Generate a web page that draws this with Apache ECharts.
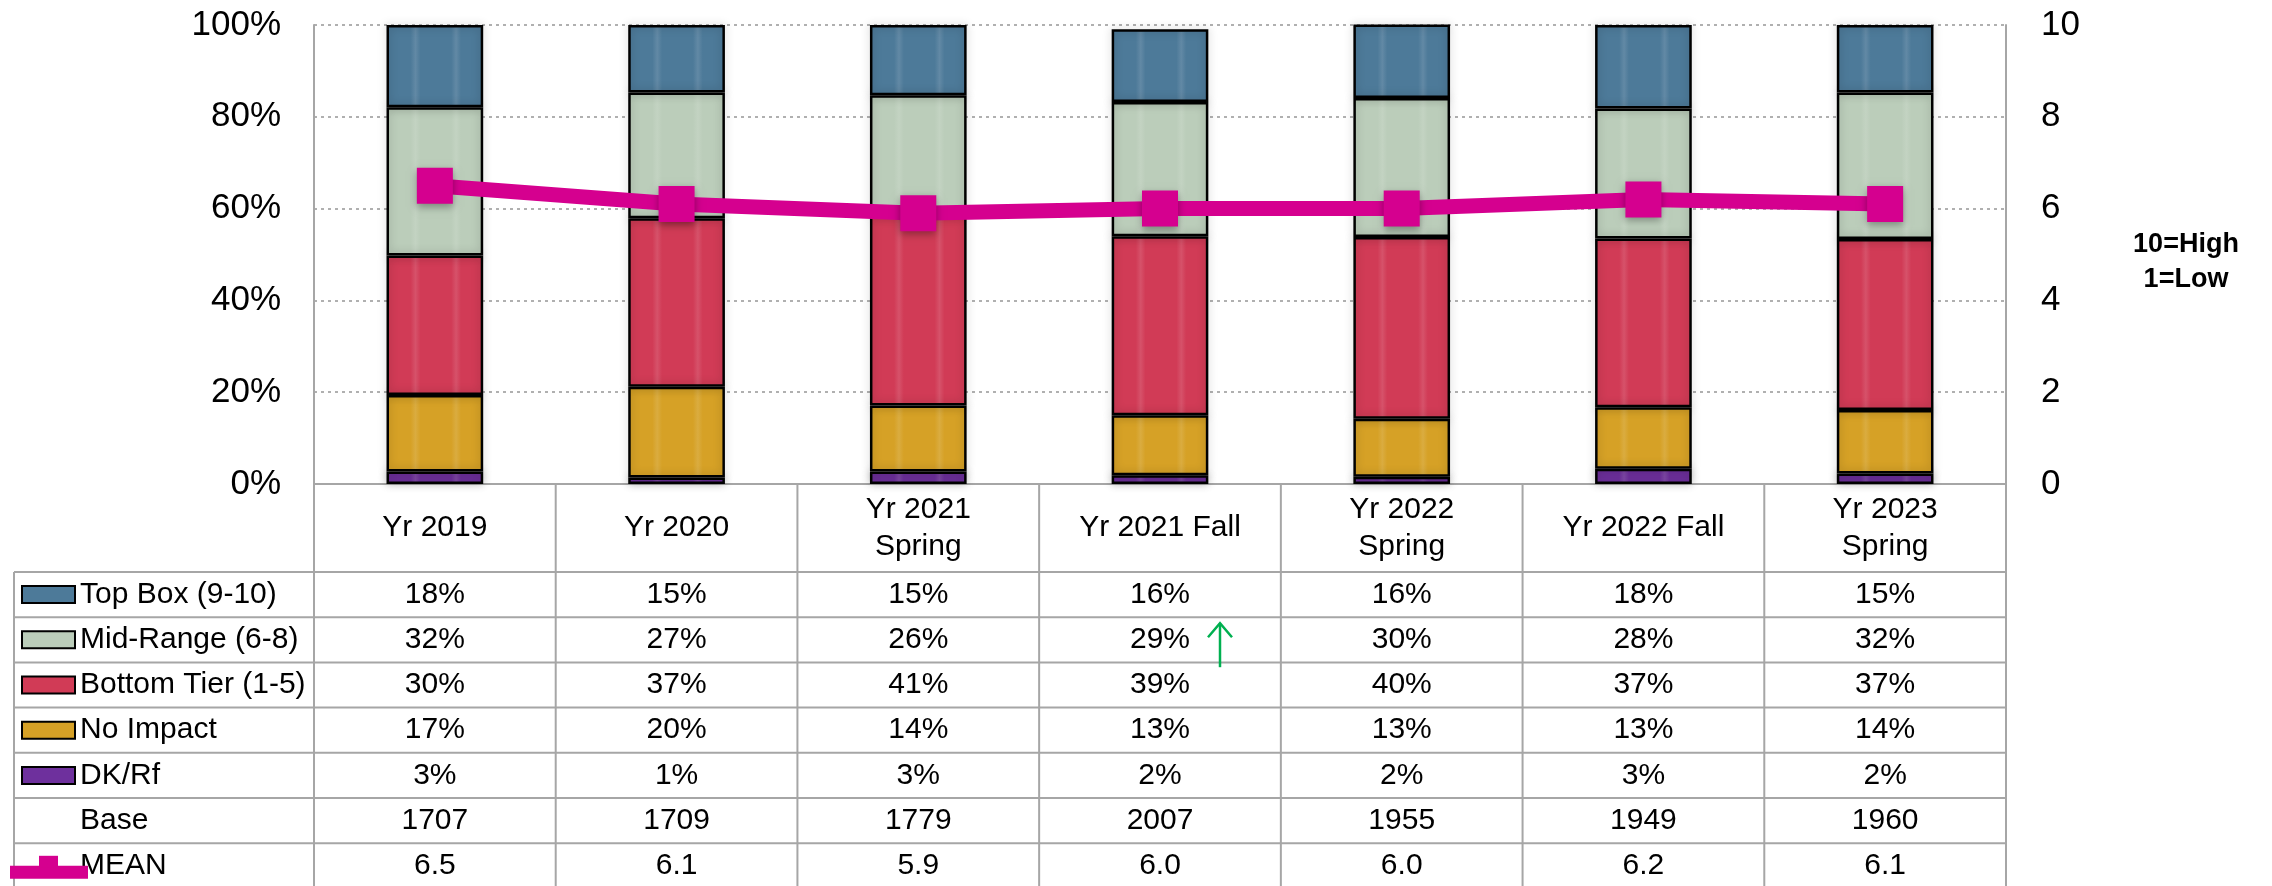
<!DOCTYPE html>
<html lang="en">
<head>
<meta charset="UTF-8">
<title>Rating by wave</title>
<script src="https://cdn.jsdelivr.net/npm/echarts/dist/echarts.min.js"></script>
<style>
    html, body {
        margin: 0;
        padding: 0;
        background: #fff;
    }
    #chart {
        width: 2272px;
        height: 886px;
    }
</style>
</head>
<body>
<div id="chart"></div>
<script>
var categories = ['Yr 2019', 'Yr 2020', 'Yr 2021\nSpring', 'Yr 2021 Fall', 'Yr 2022\nSpring', 'Yr 2022 Fall', 'Yr 2023\nSpring'];
// shares in % (table shows them rounded)
var topBox     = [17.9, 14.7, 15.3, 15.9, 16.0, 18.2, 14.7];
var midRange   = [32.3, 27.4, 26.4, 29.2, 30.3, 28.3, 31.9];
var bottomTier = [30.4, 36.7, 41.2, 39.0, 39.6, 36.8, 37.3];
var noImpact   = [16.7, 19.8, 14.4, 13.1, 12.6, 13.4, 13.8];
var dkRf       = [2.7, 1.4, 2.7, 1.9, 1.6, 3.3, 2.3];
var baseN      = [1707, 1709, 1779, 2007, 1955, 1949, 1960];
var mean       = [6.5, 6.1, 5.9, 6.0, 6.0, 6.2, 6.1];
var seriesNames = ['Top Box (9-10)', 'Mid-Range (6-8)', 'Bottom Tier (1-5)', 'No Impact', 'DK/Rf'];

var FONT = '"Liberation Sans", Arial, sans-serif';
var GRID_GRAY = '#a6a6a6';

var colors = {
    top: '#4d7a99',
    mid: '#bbcdba',
    bottom: '#d13b56',
    none: '#d6a126',
    dk: '#6e309d',
    mean: '#d5008f'
};

// bars have two soft darker vertical stripes
function stripes(c) {
    var dark = echarts.color.lift(c, 0.12);
    return {
        type: 'linear', x: 0, y: 0, x2: 1, y2: 0,
        colorStops: [
            {offset: 0, color: c},
            {offset: 0.25, color: c},
            {offset: 0.30, color: dark},
            {offset: 0.35, color: c},
            {offset: 0.67, color: c},
            {offset: 0.72, color: dark},
            {offset: 0.77, color: c},
            {offset: 1, color: c}
        ]
    };
}

function barSeries(name, data, c) {
    return {
        name: name,
        type: 'bar',
        stack: 'total',
        barWidth: '40%',
        data: data,
        itemStyle: {
            color: stripes(c),
            borderColor: '#000',
            borderWidth: 2.5,
            shadowBlur: 8,
            shadowColor: 'rgba(0,0,0,0.25)'
        }
    };
}

var option = {
    animation: false,
    backgroundColor: '#fff',
    grid: {left: 314, right: 266, top: 25, bottom: 402},
    xAxis: {
        type: 'category',
        data: categories,
        axisLine: {lineStyle: {color: GRID_GRAY, width: 2}},
        axisTick: {show: false},
        axisLabel: {
            color: '#000',
            fontSize: 30,
            fontFamily: FONT,
            margin: 44,
            verticalAlign: 'middle',
            lineHeight: 37,
            interval: 0
        }
    },
    yAxis: [
        {
            type: 'value',
            min: 0,
            max: 100,
            interval: 20,
            axisLine: {show: true, lineStyle: {color: GRID_GRAY, width: 2}},
            axisTick: {show: false},
            axisLabel: {formatter: '{value}%', color: '#000', fontSize: 35, fontFamily: FONT, margin: 33},
            splitLine: {lineStyle: {color: '#b0b0b0', width: 2, type: [3, 4]}}
        },
        {
            type: 'value',
            min: 0,
            max: 10,
            interval: 2,
            position: 'right',
            axisLine: {show: true, lineStyle: {color: GRID_GRAY, width: 2}},
            axisTick: {show: false},
            axisLabel: {color: '#000', fontSize: 35, fontFamily: FONT, margin: 35},
            splitLine: {show: false}
        }
    ],
    series: [
        barSeries('DK/Rf', dkRf, colors.dk),
        barSeries('No Impact', noImpact, colors.none),
        barSeries('Bottom Tier (1-5)', bottomTier, colors.bottom),
        barSeries('Mid-Range (6-8)', midRange, colors.mid),
        barSeries('Top Box (9-10)', topBox, colors.top),
        {
            name: 'MEAN',
            type: 'line',
            yAxisIndex: 1,
            data: mean,
            symbol: 'rect',
            symbolSize: 36,
            z: 5,
            lineStyle: {color: colors.mean, width: 15},
            itemStyle: {
                color: colors.mean,
                shadowBlur: 8,
                shadowOffsetY: 3,
                shadowColor: 'rgba(0,0,0,0.35)'
            }
        }
    ]
};

var chart = echarts.init(document.getElementById('chart'));
chart.setOption(option);

// data table under the plot
var x0 = chart.convertToPixel({xAxisIndex: 0}, 0);
var x1 = chart.convertToPixel({xAxisIndex: 0}, 1);
var band = x1 - x0;
var gridLeft = x0 - band / 2;
var gridRight = gridLeft + band * categories.length;
var axisY = chart.convertToPixel({yAxisIndex: 0}, 0);
var headerH = 88;
var rowH = 45.2;
var tableLeft = 14;
var tableTop = axisY + headerH;
var H = 886;

function pct(v) { return Math.round(v) + '%'; }
function plain(v) { return String(v); }
function fixed1(v) { return v.toFixed(1); }

var rows = [
    {label: seriesNames[0], swatch: colors.top, values: topBox, fmt: pct},
    {label: seriesNames[1], swatch: colors.mid, values: midRange, fmt: pct},
    {label: seriesNames[2], swatch: colors.bottom, values: bottomTier, fmt: pct},
    {label: seriesNames[3], swatch: colors.none, values: noImpact, fmt: pct},
    {label: seriesNames[4], swatch: colors.dk, values: dkRf, fmt: pct},
    {label: 'Base', swatch: null, values: baseN, fmt: plain},
    {label: 'MEAN', swatch: 'line', values: mean, fmt: fixed1}
];

var g = [];
function line(xa, ya, xb, yb) {
    g.push({type: 'line', silent: true, shape: {x1: xa, y1: ya, x2: xb, y2: yb},
        style: {stroke: GRID_GRAY, lineWidth: 2}});
}
function text(str, x, y, align, size, weight) {
    g.push({type: 'text', silent: true, style: {
        text: str, x: x, y: y, align: align, verticalAlign: 'middle',
        fill: '#000', fontSize: size || 30, fontWeight: weight || 'normal',
        fontFamily: FONT, lineHeight: 35
    }});
}

for (var r = 0; r <= rows.length; r++) {
    var yy = tableTop + r * rowH;
    if (yy < H) line(tableLeft, yy, gridRight, yy);
}
line(tableLeft, tableTop, tableLeft, H);
for (var k = 0; k <= categories.length; k++) {
    var xx = gridLeft + k * band;
    line(xx, axisY, xx, H);
}

rows.forEach(function (row, i) {
    var cy = tableTop + i * rowH + rowH / 2;
    text(row.label, 80, cy, 'left');
    if (row.swatch === 'line') {
        g.push({type: 'rect', silent: true, z: 10, shape: {x: 10, y: cy, width: 78, height: 13}, style: {fill: colors.mean}});
        g.push({type: 'rect', silent: true, z: 10, shape: {x: 39, y: cy - 10, width: 19, height: 12}, style: {fill: colors.mean}});
    } else if (row.swatch) {
        g.push({type: 'rect', silent: true, shape: {x: 22, y: cy - 8.5, width: 53, height: 17},
            style: {fill: row.swatch, stroke: '#000', lineWidth: 2}});
    }
    row.values.forEach(function (v, j) {
        text(row.fmt(v), chart.convertToPixel({xAxisIndex: 0}, j), cy, 'center');
    });
});

// green up arrow beside Yr 2021 Fall mid-range
var ax = chart.convertToPixel({xAxisIndex: 0}, 3) + 60;
var ay = tableTop + rowH;
g.push({type: 'polyline', silent: true, shape: {points: [[ax, ay + 50], [ax, ay + 6]]},
    style: {stroke: '#00b050', lineWidth: 2.5, fill: null}});
g.push({type: 'polyline', silent: true, shape: {points: [[ax - 12, ay + 20], [ax, ay + 6], [ax + 12, ay + 20]]},
    style: {stroke: '#00b050', lineWidth: 2.5, fill: null}});

// scale note on the right
text('10=High\n1=Low', 2186, 262, 'center', 27, 'bold');

chart.setOption({graphic: {elements: g}});
</script>
</body>
</html>
